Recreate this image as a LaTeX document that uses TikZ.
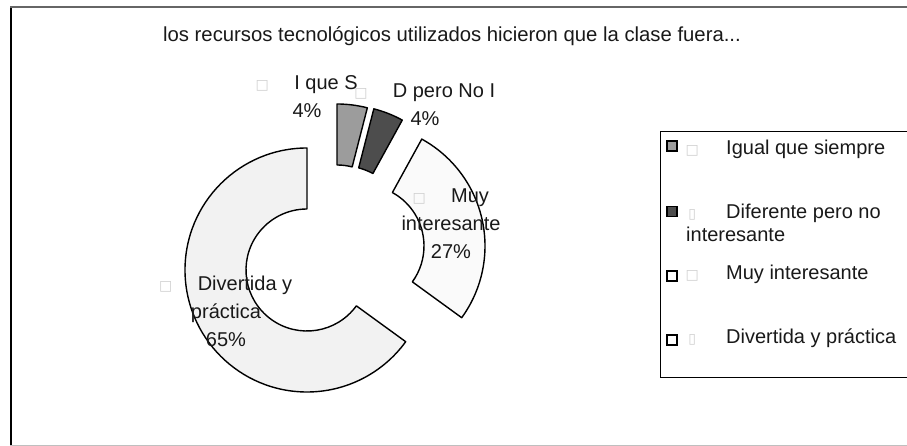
\documentclass[tikz,border=0pt]{standalone}
\usepackage{fontspec}
\setmainfont{Liberation Sans}
\newfontfamily\tofufont{DejaVu Sans}
\usepackage{xcolor}
\usepackage{tikz}

\definecolor{igualgray}{HTML}{9C9C9C}
\definecolor{difgray}{HTML}{4D4D4D}
\definecolor{muywhite}{HTML}{FAFAFA}
\definecolor{divwhite}{HTML}{F2F2F2}
\definecolor{tofugray}{HTML}{CFCFCF}

\newcommand{\tofu}{\makebox[12pt]{\tofufont\fontsize{14}{14}\selectfont\color{tofugray}□}}
\newcommand{\tofubar}{\makebox[12pt]{\tofufont\fontsize{14}{14}\selectfont\color{tofugray}▯}}

\begin{document}
\begin{tikzpicture}[x=1pt,y=1pt,
	seg/.style={draw=black, line width=1.4pt, line join=round},
	lbl/.style={inner sep=0pt, text=black!90, font=\fontsize{20}{27.8}\selectfont},
	key/.style={draw=black, line width=1.2pt, minimum size=10pt, inner sep=0pt}]
	\useasboundingbox (0,0) rectangle (907,446);
	\clip (0,0) rectangle (907,446);
	
	% frame
	\draw[line width=2pt] (11,0) -- (11,440);
	\draw[black!60, line width=1.2pt] (10,439) -- (907,439);
	\draw[black!25] (10,1) -- (907,1);
	
	\node[lbl, font=\fontsize{20.3}{24}\selectfont, anchor=base] (title) at (452,404.5) {los recursos tecnológicos utilizados hicieron que la clase fuera...};
	
	% doughnut: centre x/centre y/start/end/fill
	\foreach \cx/\cy/\a/\b/\col in {307/176/90/324/divwhite, 363/200/-36/61.2/muywhite,
		343.5/219/61.2/75.6/difgray, 337/220/75.6/90/igualgray}{
		\draw[seg, fill=\col] ([shift={(\cx,\cy)}]\a:122) arc[start angle=\a, end angle=\b, radius=122]
			-- ([shift={(\cx,\cy)}]\b:61) arc[start angle=\b, end angle=\a, radius=61] -- cycle;
	}
	
	\node[lbl, align=center] (igual) at (307,349.5) {\tofu\hspace{26pt}I que S\\4\%};
	\node[lbl, align=center] (dif) at (425,341.5) {\tofu\hspace{26pt}D pero No I\\4\%};
	\node[lbl, align=center] (muy) at (451,222.5) {\tofu\hspace{26pt}Muy\\interesante\\27\%};
	\node[lbl, align=center] (div) at (226,134.5) {\tofu\hspace{26pt}Divertida y\\práctica\\65\%};
	
	% legend
	\draw[line width=1pt] (915,314) -- (660,314) -- (660,68) -- (915,68);
	\node[key, fill=igualgray] (kigual) at (672,300) {};
	\node[key, fill=difgray] (kdif) at (672,234.3) {};
	\node[key, fill=white] (kmuy) at (672,170) {};
	\node[key, fill=white] (kdiv) at (672,106) {};
	\node[lbl, anchor=base west] (tigual) at (686,291) {\tofu\hspace{28pt}Igual que siempre};
	\node[lbl, anchor=base west] (tdif) at (686,227.7) {\tofubar\hspace{28pt}Diferente pero no};
	\node[lbl, anchor=base west] (tdifb) at (686,204.3) {interesante};
	\node[lbl, anchor=base west] (tmuy) at (686,166) {\tofu\hspace{28pt}Muy interesante};
	\node[lbl, anchor=base west] (tdiv) at (686,102.7) {\tofubar\hspace{28pt}Divertida y práctica};
\end{tikzpicture}
\end{document}
